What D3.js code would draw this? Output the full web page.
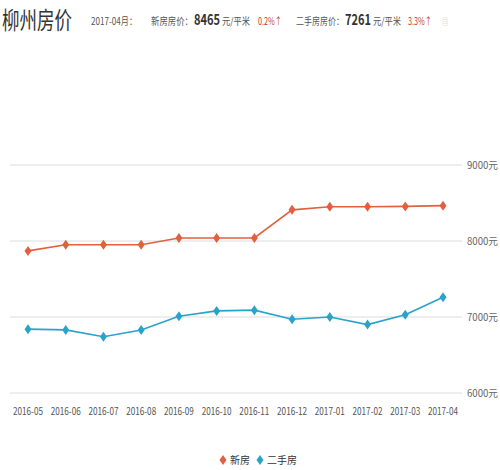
<!DOCTYPE html>
<html><head><meta charset="utf-8">
<script src="https://cdn.jsdelivr.net/npm/d3@7"></script>
<style>body{margin:0;background:#fff;font-family:"Liberation Sans Narrow","Noto Sans CJK SC",sans-serif}</style>
</head><body><svg width="500" height="470"></svg>
<script>
const months = ['2016-05','2016-06','2016-07','2016-08','2016-09','2016-10','2016-11','2016-12','2017-01','2017-02','2017-03','2017-04'];
const newPrice = [7870,7950,7950,7950,8040,8040,8040,8410,8450,8450,8455,8465];
const usedPrice = [6840,6830,6740,6830,7010,7080,7090,6970,7000,6900,7030,7261];
const yTicks = [6000,7000,8000,9000];

const svg = d3.select('svg');
const red = '#e0603f', blue = '#2aa3c9';

// header, widths fitted to the reference's narrow font
function txt(xp, yp, size, fill, s, len, bold){
  const t = svg.append('text').attr('x',xp).attr('y',yp).attr('font-size',size).attr('fill',fill)
    .attr('textLength',len).attr('lengthAdjust','spacingAndGlyphs').text(s);
  if (bold) t.attr('font-weight','bold');
}
txt(2,29,24,'#333','柳州房价',70);
txt(91,25,10,'#555','2017-04月：',46);
txt(151,25,10,'#555','新房房价：',42);
txt(194,25,15,'#333','8465',26,true);
txt(222,25,10,'#555','元/平米',28);
txt(258,25,10,'#c0392b','0.2%↑',24);
txt(296,25,10,'#555','二手房房价：',48);
txt(345,25,15,'#333','7261',26,true);
txt(373,25,10,'#555','元/平米',28);
txt(408,25,10,'#c0392b','3.3%↑',24);
txt(442,25,9,'#bbb','▤',6);

const x = d3.scalePoint().domain(months).range([28,443]);
const y = d3.scaleLinear().domain([6000,9000]).range([393,165]);

svg.append('g').selectAll('line').data(yTicks).join('line')
  .attr('x1',10).attr('x2',462).attr('y1',d=>y(d)).attr('y2',d=>y(d))
  .attr('stroke','#ddd');
svg.append('g').selectAll('text').data(yTicks).join('text')
  .attr('x',467).attr('y',d=>y(d)+4).attr('font-size',10).attr('fill','#666')
  .attr('textLength',31).attr('lengthAdjust','spacingAndGlyphs').text(d=>d+'元');

svg.append('g').selectAll('text').data(months).join('text')
  .attr('x',d=>x(d)-15).attr('y',415).attr('font-size',10).attr('fill','#555')
  .attr('textLength',30).attr('lengthAdjust','spacingAndGlyphs').text(d=>d);

function series(vals,color){
  svg.append('path').datum(vals)
    .attr('d',d3.line().x((d,i)=>x(months[i])).y(d=>y(d)))
    .attr('fill','none').attr('stroke',color).attr('stroke-width',1.6);
  svg.append('g').selectAll('path').data(vals).join('path')
    .attr('transform',(d,i)=>`translate(${x(months[i])},${y(d)})`)
    .attr('d','M0,-5L3.5,0L0,5L-3.5,0Z').attr('fill',color);
}
series(newPrice,red);
series(usedPrice,blue);

// legend
svg.append('path').attr('transform','translate(223,460)').attr('d','M0,-5L3.5,0L0,5L-3.5,0Z').attr('fill',red);
txt(230,464,10,'#333','新房',20);
svg.append('path').attr('transform','translate(260,460)').attr('d','M0,-5L3.5,0L0,5L-3.5,0Z').attr('fill',blue);
txt(267,464,10,'#333','二手房',30);
</script></body></html>
